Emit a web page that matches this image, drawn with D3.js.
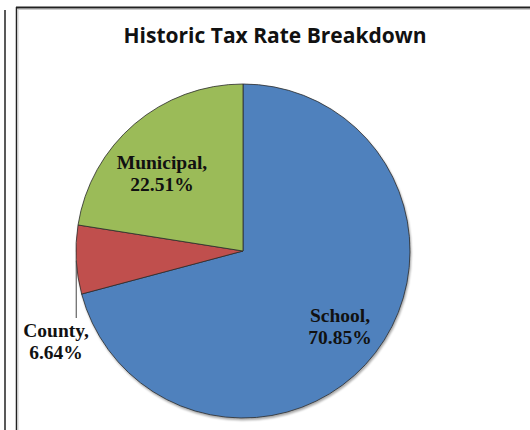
<!DOCTYPE html>
<html>
<head>
<meta charset="utf-8">
<script src="https://cdn.jsdelivr.net/npm/d3@7/dist/d3.min.js"></script>
<style>
  html, body { margin: 0; padding: 0; background: #fff; }
  svg { display: block; }
</style>
</head>
<body>
<svg id="chart" width="530" height="430"></svg>
<script>
// Tax rate shares, in drawing order (clockwise from 12 o'clock)
const categories = ["School", "County", "Municipal"];
const shares = [70.85, 6.64, 22.51];
const sliceColors = ["#4F81BD", "#C0504D", "#9BBB59"];
const chartTitle = "Historic Tax Rate Breakdown";

const svg = d3.select("#chart");
const W = 530, H = 430;

// Frame lines of the chart area
const frame = svg.append("g");
frame.append("line").attr("x1", 5).attr("x2", 5).attr("y1", 10).attr("y2", H)
  .attr("stroke", "#222").attr("stroke-width", 1.5);
frame.append("line").attr("x1", 16.5).attr("x2", 16.5).attr("y1", 7).attr("y2", H)
  .attr("stroke", "#222").attr("stroke-width", 1.5);
frame.append("line").attr("x1", 18).attr("x2", 18).attr("y1", 8).attr("y2", H)
  .attr("stroke", "#ccc").attr("stroke-width", 1);
frame.append("line").attr("x1", 16).attr("x2", W).attr("y1", 7.5).attr("y2", 7.5)
  .attr("stroke", "#222").attr("stroke-width", 2);
frame.append("line").attr("x1", 17).attr("x2", W).attr("y1", 9.5).attr("y2", 9.5)
  .attr("stroke", "#ccc").attr("stroke-width", 1);

// Title
svg.append("text")
  .attr("x", 275).attr("y", 43)
  .attr("text-anchor", "middle")
  .attr("font-family", "'Open Sans', Lato, sans-serif")
  .attr("font-weight", "bold")
  .attr("font-size", 21)
  .attr("fill", "#111")
  .text(chartTitle);

// Pie
const cx = 243, cy = 251, R = 167;
const data = categories.map((c, i) => ({ name: c, value: shares[i], color: sliceColors[i] }));
const pie = d3.pie().value(d => d.value).sort(null);
const arc = d3.arc().innerRadius(0).outerRadius(R);
const arcs = pie(data);

const g = svg.append("g").attr("transform", `translate(${cx},${cy})`);

// soft shadow along the rim
const defs = svg.append("defs");
const f = defs.append("filter").attr("id", "sh").attr("x", "-10%").attr("y", "-10%").attr("width", "120%").attr("height", "120%");
f.append("feGaussianBlur").attr("in", "SourceAlpha").attr("stdDeviation", 1.2);
f.append("feOffset").attr("dx", 1).attr("dy", 1.5).attr("result", "b");
f.append("feComponentTransfer").append("feFuncA").attr("type", "linear").attr("slope", 0.35);
const fm = f.append("feMerge");
fm.append("feMergeNode");
fm.append("feMergeNode").attr("in", "SourceGraphic");

g.append("g").attr("filter", "url(#sh)")
  .selectAll("path").data(arcs).join("path")
  .attr("d", arc)
  .attr("fill", d => d.data.color)
  .attr("stroke", "#2b2b2b")
  .attr("stroke-width", 0.8)
  .attr("stroke-linejoin", "round");

// Labels
const labelFont = "'Liberation Serif', 'Times New Roman', serif";
const labelPos = {
  School:    { x: 340, y: 322, anchor: "middle" },
  County:    { x: 56,  y: 337, anchor: "middle" },
  Municipal: { x: 162, y: 169, anchor: "middle" }
};
const lineGap = 22;

arcs.forEach(a => {
  const p = labelPos[a.data.name];
  const t = svg.append("text")
    .attr("font-family", labelFont)
    .attr("font-weight", "bold")
    .attr("font-size", 19.5)
    .attr("fill", "#111")
    .attr("text-anchor", p.anchor);
  t.append("tspan").attr("x", p.x).attr("y", p.y).text(a.data.name + ",");
  t.append("tspan").attr("x", p.x).attr("y", p.y + lineGap).text(d3.format(".2f")(a.data.value) + "%");
});

// Leader line for the small slice
const county = arcs.find(a => a.data.name === "County");
const mid = (county.startAngle + county.endAngle) / 2;
const ex = cx + Math.sin(mid) * R, ey = cy - Math.cos(mid) * R;
svg.append("line")
  .attr("x1", ex).attr("y1", ey + 1)
  .attr("x2", ex).attr("y2", 318)
  .attr("stroke", "#444").attr("stroke-width", 1);
</script>
</body>
</html>
